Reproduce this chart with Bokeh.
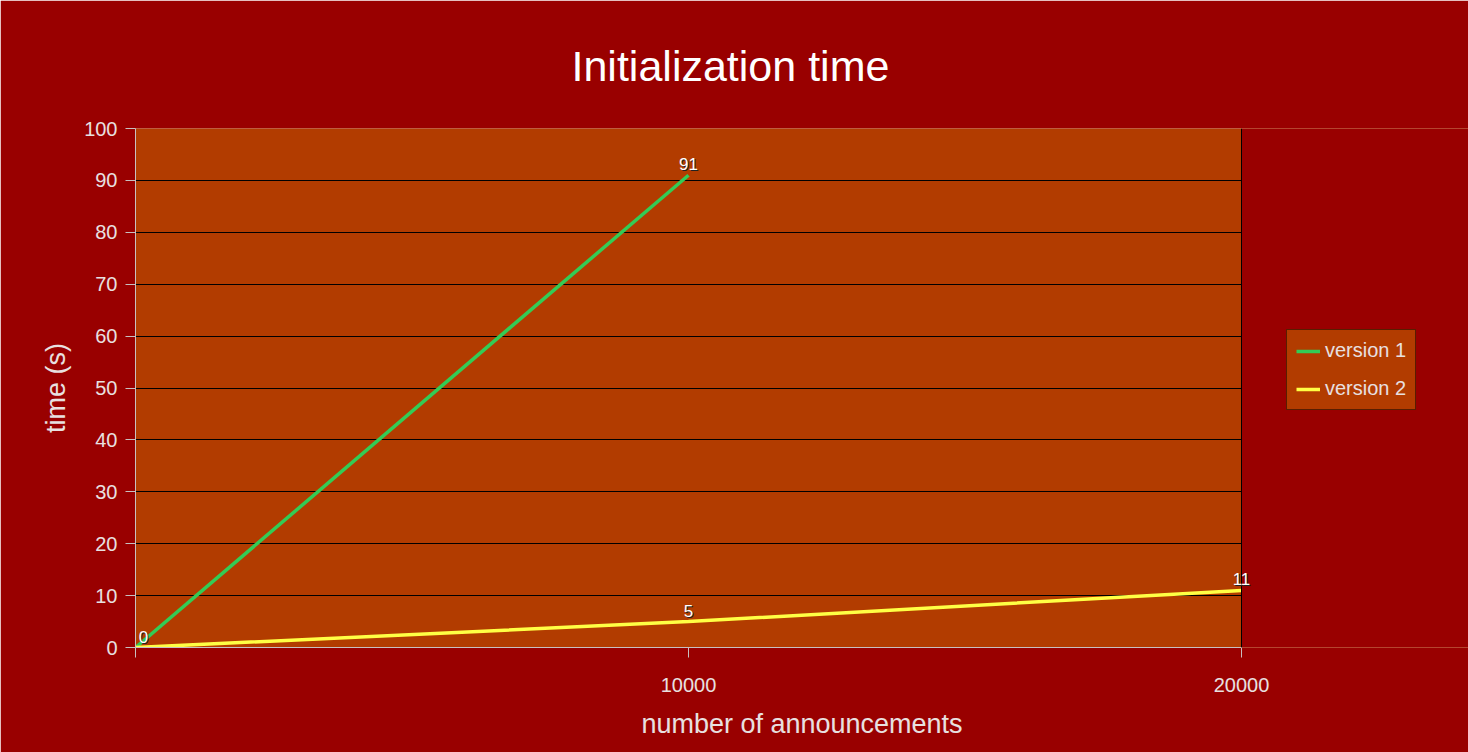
from bokeh.plotting import figure
from bokeh.models import (ColumnDataSource, Legend, LegendItem, LabelSet, FixedTicker,
                          LinearAxis, Range1d, Grid, BoxAnnotation, Span)
from bokeh.core.properties import value
from bokeh.embed import file_html
from bokeh.resources import INLINE

# ---- data ----
title_text = "Initialization time"
x_label = "number of announcements"
y_label = "time (s)"
v1_x = [0, 10000]
v1_y = [0, 91]
v2_x = [0, 10000, 20000]
v2_y = [0, 5, 11]
series_names = ["version 1", "version 2"]
x_ticks = [0, 10000, 20000]
x_tick_labels = {0: "", 10000: "10000", 20000: "20000"}
y_ticks = list(range(0, 101, 10))
lbl_x = [0, 10000, 10000, 20000]
lbl_y = [0, 91, 5, 11]
lbl_text = ["0", "91", "5", "11"]

X_MIN, X_MAX = 0, 20000
FONT = "Liberation Sans"
BG = "#990000"
PLOT_BG = "#b23c00"
TXT = "#e8e0e0"
GREEN = "#33cc55"
YELLOW = "#ffff44"

# the visible plot area is 1106px wide; the frame continues to the right edge
# (masked) so that end labels and the legend are not clipped
W, H = 1468, 752
LEFT = 135
DATA_W = 1106
FRAME_W = W - LEFT
PAD_PX = FRAME_W - DATA_W
x_end = X_MAX + PAD_PX * (X_MAX - X_MIN) / DATA_W

p = figure(width=W, height=H, output_backend="svg", toolbar_location=None,
           x_range=Range1d(X_MIN, x_end), y_range=Range1d(0, 100),
           x_axis_type=None, y_axis_type=None,
           min_border_left=LEFT, min_border_right=0, min_border_top=128,
           min_border_bottom=105)
p.background_fill_color = PLOT_BG
p.border_fill_color = BG
p.outline_line_color = None

p.title.text = title_text
p.title.text_font = FONT
p.title.text_font_size = "43px"
p.title.text_font_style = "normal"
p.title.text_color = "white"
p.title.align = "left"
p.title.offset = 436
p.title.standoff = 78

xa = LinearAxis(ticker=FixedTicker(ticks=x_ticks), major_label_overrides=x_tick_labels,
                bounds=(X_MIN, X_MAX))
ya = LinearAxis(ticker=FixedTicker(ticks=y_ticks))
for ax in (xa, ya):
    ax.axis_line_color = "#c8c0c0"
    ax.major_tick_line_color = "#c8c0c0"
    ax.major_tick_out = 10
    ax.major_tick_in = 0
    ax.minor_tick_line_color = None
    ax.major_label_text_color = TXT
    ax.major_label_text_font = FONT
    ax.major_label_text_font_size = "20px"
    ax.axis_label_text_color = TXT
    ax.axis_label_text_font = FONT
    ax.axis_label_text_font_size = "27px"
    ax.axis_label_text_font_style = "normal"
xa.axis_label = x_label
ya.axis_label = y_label
xa.major_label_standoff = 20
xa.axis_label_standoff = 14
ya.major_label_standoff = 8
ya.axis_label_standoff = 10
p.add_layout(xa, "below")
p.add_layout(ya, "left")

p.add_layout(Grid(dimension=1, ticker=ya.ticker, grid_line_color="black", grid_line_width=1))

r1 = p.line(v1_x, v1_y, line_color=GREEN, line_width=3.5)
r2 = p.line(v2_x, v2_y, line_color=YELLOW, line_width=3.5)

# mask beyond X_MAX and draw the right frame edge
p.add_layout(BoxAnnotation(left=X_MAX, fill_color=BG, fill_alpha=1, line_color=None,
                           line_alpha=0))
p.add_layout(Span(location=X_MAX, dimension="height", line_color="black", line_width=1))

dx = [8, 0, 0, 0]
src = ColumnDataSource(dict(x=lbl_x, y=lbl_y, t=lbl_text,
                            sx=[d + 1 for d in dx], fx=dx))
for col, xo, yo in (("#222222", "sx", 4), ("white", "fx", 5)):
    p.add_layout(LabelSet(x="x", y="y", text="t", source=src, x_offset=xo, y_offset=yo,
                          text_font=value(FONT), text_font_size=value("17px"),
                          text_color=col, text_align="center", text_baseline="bottom"))

legend = Legend(items=[LegendItem(label=series_names[0], renderers=[r1]),
                       LegendItem(label=series_names[1], renderers=[r2])],
                location=(1286 - LEFT, 647 - 410))
legend.background_fill_color = PLOT_BG
legend.background_fill_alpha = 1
legend.border_line_color = "black"
legend.label_text_color = TXT
legend.label_text_font = FONT
legend.label_text_font_size = "20px"
legend.glyph_width = 24
legend.spacing = 15
legend.padding = 9
legend.margin = 0
p.add_layout(legend, "center")

open("out.html", "w").write(file_html(p, INLINE))
